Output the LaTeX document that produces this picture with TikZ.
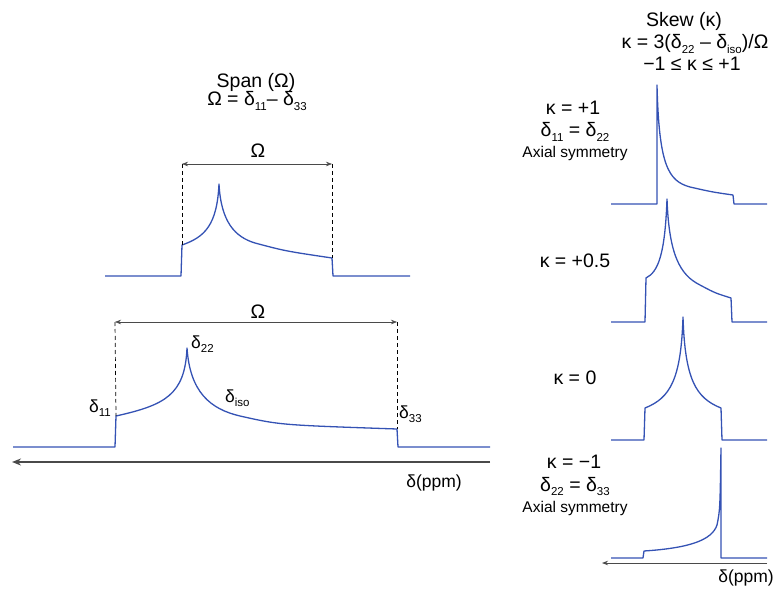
\documentclass[tikz,border=0pt]{standalone}
\usepackage{fontspec}
\setmainfont{Liberation Sans}
\usetikzlibrary{arrows.meta}
\definecolor{spBlue}{HTML}{3452B4}
\definecolor{axGray}{HTML}{4A4A4A}
\newcommand{\ssub}[1]{\raisebox{-0.45ex}{\fontsize{11.5}{12}\selectfont #1}}
\tikzset{
  spec/.style={draw=spBlue, line width=1.3pt, line join=round},
  guide/.style={draw=black, line width=0.7pt, dash pattern=on 4pt off 3pt},
  dimn/.style={{Stealth[length=6pt,width=4.5pt]}-{Stealth[length=6pt,width=4.5pt]}, draw=axGray, line width=0.6pt},
  axisL/.style={-{Stealth[length=9pt,width=7pt]}, draw=axGray, line width=1.8pt},
  axisR/.style={-{Stealth[length=6pt,width=4.5pt]}, draw=axGray, line width=0.8pt},
  lbl/.style={anchor=base, inner sep=0pt, font=\fontsize{19.5}{22}\selectfont},
  mid/.style={lbl, font=\fontsize{17.5}{20}\selectfont},
  sml/.style={lbl, font=\fontsize{15.5}{18}\selectfont},
}
\begin{document}
\begin{tikzpicture}[x=1pt, y=-1pt]
\useasboundingbox (0,0) rectangle (777,591);
% span, titles
\node[lbl] (spanT) at (256,88) {Span (Ω)};
\node[lbl] (spanE) at (257,106) {Ω = δ\ssub{11}– δ\ssub{33}};
\node[lbl] (skewT) at (684,27) {Skew (κ)};
\node[lbl] (skewE) at (695,49) {κ = 3(δ\ssub{22} – δ\ssub{iso})/Ω};
\node[lbl] (skewR) at (692,71) {−1 ≤ κ ≤ +1};
% top spectrum
\coordinate (t11) at (182,245);
\coordinate (t33) at (332,258);
\coordinate (t11u) at (182,164);
\coordinate (t33u) at (332,164);
\draw[spec] (105,276) -- (181,276) -- (t11) .. controls (205,237) and (217,225) .. (219,184)
  .. controls (221,222) and (235,237) .. (255,243) .. controls (285,251) .. (t33) -- (333,276) -- (410,276);
\draw[guide] (t11u) -- (t11);
\draw[guide] (t33u) -- (t33);
\draw[dimn] (t11u) -- (t33u);
\node[lbl] (omT) at (258,158) {Ω};
% bottom spectrum
\coordinate (b11) at (116,416);
\coordinate (b33) at (397,429);
\coordinate (b11u) at (115,322);
\coordinate (b33u) at (397,322);
\draw[spec] (13,447) -- (115,447) -- (b11) .. controls (165,405) and (185,395) .. (187,348)
  .. controls (190,392) and (210,409) .. (240,416) .. controls (280,425) .. (b33) -- (398,447) -- (490,447);
\draw[guide] (b11u) -- (b11);
\draw[guide] (b33u) -- (b33);
\draw[dimn] (b11u) -- (b33u);
\node[lbl] (omB) at (258,318) {Ω};
\node[mid, anchor=base west] (d11) at (89,412) {δ\ssub{11}};
\node[mid, anchor=base west] (d22) at (191,348) {δ\ssub{22}};
\node[mid, anchor=base west] (diso) at (225,402) {δ\ssub{iso}};
\node[mid, anchor=base west] (d33) at (399,418) {δ\ssub{33}};
\coordinate (axL1) at (490,462);
\coordinate (axL0) at (12,462);
\draw[axisL] (axL1) -- (axL0);
\node[mid] (ppmL) at (434,487) {δ(ppm)};
% skew spectra
\draw[spec] (611,204) -- (657,204) -- (657,85) .. controls (659,165) and (668,181) .. (690,187)
  .. controls (712,192) .. (733,195) -- (734,204) -- (767,204);
\node[lbl] (kP1) at (573,115) {κ = +1};
\node[lbl] (kP1a) at (575,137) {δ\ssub{11} = δ\ssub{22}};
\node[sml] (kP1b) at (575,158) {Axial symmetry};
\draw[spec] (611,322) -- (645,322) -- (646,278) .. controls (658,272) and (665,255) .. (667,199)
  .. controls (669,255) and (680,275) .. (700,285) .. controls (715,293) .. (731,298) -- (732,322) -- (767,322);
\node[lbl] (kP05) at (575,267) {κ = +0.5};
\draw[spec] (611,440) -- (644,440) -- (645,408) .. controls (670,398) and (681,380) .. (683,317)
  .. controls (685,380) and (696,398) .. (721,408) -- (722,440) -- (767,440);
\node[lbl] (k0) at (575,384) {κ = 0};
\draw[spec] (611,558) -- (643,558) -- (644,551) .. controls (690,548) and (712,540) .. (717,525)
  .. controls (720,510) .. (721,448) -- (721,558) -- (767,558);
\node[lbl] (kM1) at (574,468) {κ = −1};
\node[lbl] (kM1a) at (575,491) {δ\ssub{22} = δ\ssub{33}};
\node[sml] (kM1b) at (575,512) {Axial symmetry};
\coordinate (axR1) at (767,563);
\coordinate (axR0) at (602,563);
\draw[axisR] (axR1) -- (axR0);
\node[mid] (ppmR) at (746,582) {δ(ppm)};
\end{tikzpicture}
\end{document}
